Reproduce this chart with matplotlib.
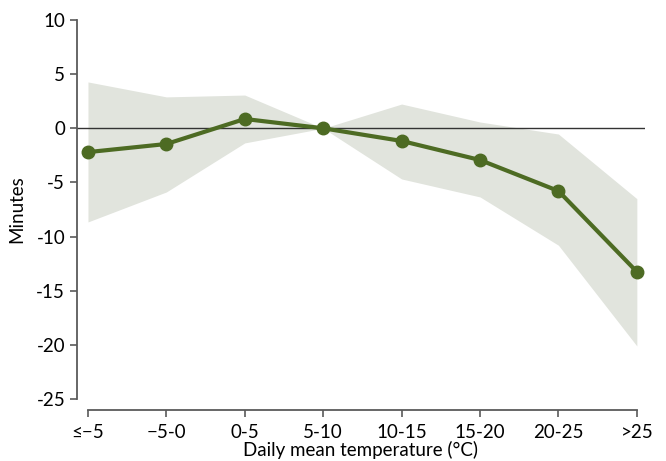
import matplotlib
matplotlib.use("Agg")
import matplotlib.pyplot as plt

plt.rcParams['font.family'] = ['Lato', 'DejaVu Sans']

categories = ["≤−5", "−5-0", "0-5", "5-10", "10-15", "15-20", "20-25", ">25"]
estimate = [-2.2, -1.45, 0.86, 0.0, -1.17, -2.93, -5.79, -13.25]
upper = [4.28, 2.9, 3.07, 0.0, 2.24, 0.58, -0.53, -6.5]
lower = [-8.65, -5.88, -1.35, 0.0, -4.68, -6.34, -10.8, -20.1]

x = list(range(len(categories)))

fig = plt.figure(figsize=(6.66, 4.61), dpi=100)
ax = fig.add_axes([0.1156, 0.1345, 0.8524, 0.8221])

ax.fill_between(x, lower, upper, color="#e1e4dd", linewidth=0, zorder=1)
ax.axhline(0, color="#333333", linewidth=1, zorder=2)
ax.plot(x, estimate, color="#4d6b23", linewidth=3, marker="o", markersize=9, zorder=3)

ax.set_xlim(-0.14, 7.1)
ax.set_ylim(-25, 10)
ax.set_yticks(range(-25, 11, 5))
ax.set_yticklabels([str(v) for v in range(-25, 11, 5)])
ax.set_xticks(x)
ax.set_xticklabels(categories)

for s in ["top", "right"]:
    ax.spines[s].set_visible(False)
ax.spines["bottom"].set_position(("outward", 8))
ax.spines["bottom"].set_bounds(0, 7)
for s in ["left", "bottom"]:
    ax.spines[s].set_color("#5a5a5a")
    ax.spines[s].set_linewidth(1.3)

ax.tick_params(axis="both", colors="#5a5a5a", labelcolor="black", labelsize=13.5, length=5, width=1.2)
ax.tick_params(axis="x", pad=5)
ax.set_xlabel("Daily mean temperature (°C)", fontsize=13.5, labelpad=0)
ax.set_ylabel("Minutes", fontsize=13.5, labelpad=8)

fig.savefig("out.png", dpi=100)
